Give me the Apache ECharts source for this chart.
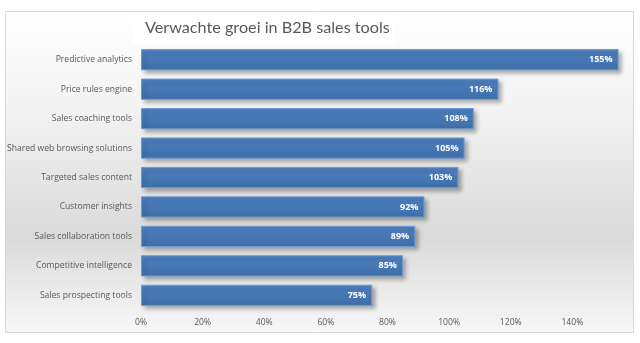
<!DOCTYPE html>
<html><head><meta charset="utf-8">
<script src="https://cdn.jsdelivr.net/npm/echarts@6/dist/echarts.min.js"></script>
<style>html,body{margin:0;padding:0;background:#fff}#c{width:640px;height:343px}</style>
</head><body><div id="c"></div>
<script>
const categories = ["Predictive analytics","Price rules engine","Sales coaching tools","Shared web browsing solutions","Targeted sales content","Customer insights","Sales collaboration tools","Competitive intelligence","Sales prospecting tools"];
const values = [155,116,108,105,103,92,89,85,75];
const tickLabels = ["0%","20%","40%","60%","80%","100%","120%","140%",""];

const chart = echarts.init(document.getElementById('c'));
chart.setOption({
  animation:false,
  backgroundColor:'#ffffff',
  graphic:[
    {type:'rect',z:-10,shape:{x:5.5,y:11.5,width:628,height:321},
     style:{stroke:'#d9d9d9',lineWidth:1,fill:new echarts.graphic.LinearGradient(0,0,0,1,[
       {offset:0,color:'#ffffff'},{offset:0.3,color:'#f3f3f3'},{offset:0.7,color:'#dadada'},{offset:1,color:'#f7f7f7'}])}},
    {type:'rect',z:-9,shape:{x:133,y:14,width:261,height:30},style:{fill:'#ffffff'}}
  ],
  title:{text:'Verwachte groei in B2B sales tools',left:140,top:15,
    textStyle:{fontFamily:'Lato',fontSize:16.2,fontWeight:'normal',color:'#595959'}},
  grid:{left:141,right:6,top:45,bottom:33,containLabel:false},
  xAxis:{type:'value',min:0,max:160,interval:20,
    axisLine:{show:false},axisTick:{show:false},splitLine:{show:false},
    axisLabel:{color:'#595959',fontFamily:'Open Sans',fontSize:8.6,margin:8,
      formatter:(v)=>tickLabels[Math.round(v/20)]}},
  yAxis:{type:'category',data:categories,inverse:true,
    axisLine:{show:false},axisTick:{show:false},
    axisLabel:{color:'#595959',fontFamily:'Open Sans',fontSize:8.6,margin:9}},
  series:[{type:'bar',data:values,barCategoryGap:'28%',
    itemStyle:{color:new echarts.graphic.LinearGradient(0,0,0,1,[
       {offset:0,color:'#4f81c2'},{offset:1,color:'#3e6ea8'}]),
      borderColor:'#6f9ad0',borderWidth:1,
      shadowColor:'rgba(0,0,0,0.3)',shadowBlur:4,shadowOffsetX:3,shadowOffsetY:3},
    label:{show:true,position:'insideRight',distance:6,formatter:'{c}%',
      color:'#ffffff',fontFamily:'Open Sans',fontSize:9,fontWeight:'bold'}}]
});
</script></body></html>
